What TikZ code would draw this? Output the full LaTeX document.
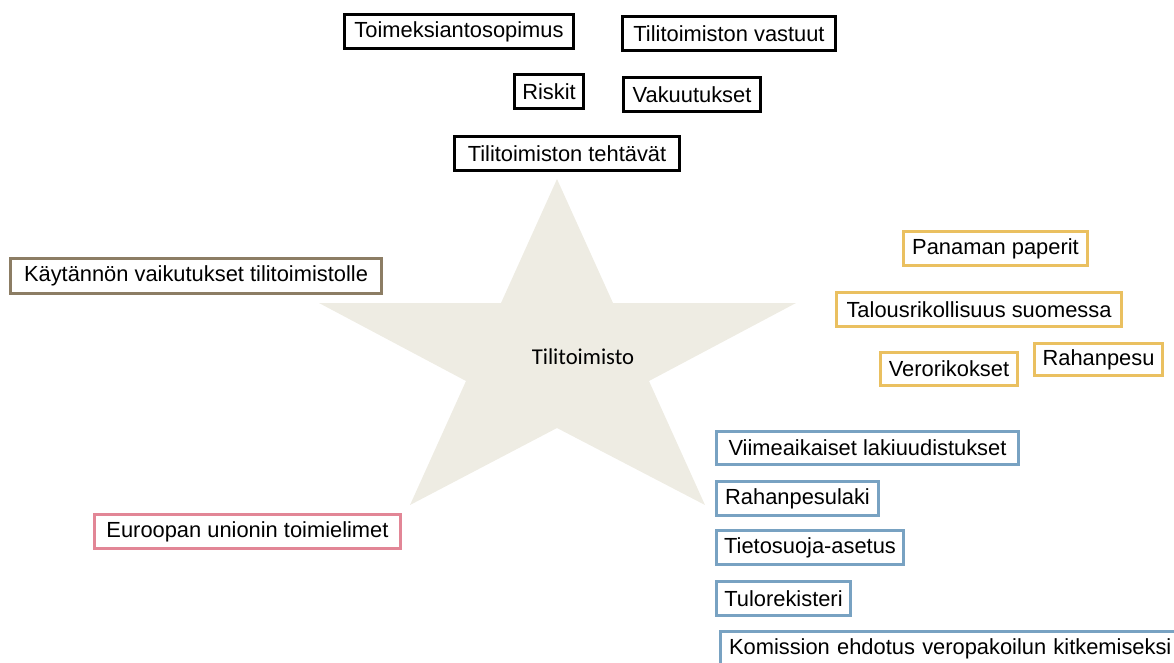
\documentclass[tikz,border=0pt]{standalone}
\usepackage{fontspec}
\setmainfont{Liberation Sans}
\newfontfamily\calibrifont{Carlito}
\definecolor{starfill}{RGB}{238,236,227}
\definecolor{tanline}{RGB}{140,125,100}
\definecolor{goldline}{RGB}{234,192,96}
\definecolor{pinkline}{RGB}{226,134,150}
\definecolor{blueline}{RGB}{120,162,194}
\begin{document}
\begin{tikzpicture}[x=0.75pt,y=-0.75pt,
  bx/.style={draw, line width=2.3pt, fill=white, inner sep=0pt, text=black,
    font=\fontsize{16.4}{18}\selectfont},
  sz/.style 2 args={minimum width=#1*0.75pt, minimum height=#2*0.75pt},
  kbox/.style={bx, draw=black, line width=2.6pt},
  tbox/.style={bx, draw=tanline},
  gbox/.style={bx, draw=goldline},
  pbox/.style={bx, draw=pinkline},
  bbox/.style={bx, draw=blueline}]
\useasboundingbox (0,0) rectangle (1174,662);
\clip (0,0) rectangle (1174,662);
% star
\fill[starfill] (557,179) -- (613,303) -- (796,303) -- (649,381) -- (705,505)
  -- (557,428) -- (410,505) -- (466,381) -- (319,303) -- (501,303) -- cycle;
\node[font=\calibrifont\fontsize{17}{19}\selectfont] (center) at (583,357) {Tilitoimisto};
% black boxes
\node[kbox, sz={229}{34}] (toim) at (459,31.5) {Toimeksiantosopimus};
\node[kbox, sz={213}{34}] (vast) at (729,33.5) {Tilitoimiston vastuut};
\node[kbox, sz={69}{34}] (risk) at (549,91.5) {Riskit};
\node[kbox, sz={137}{34}] (vaku) at (692,94.5) {Vakuutukset};
\node[kbox, sz={225}{34}] (teht) at (567,153.5) {Tilitoimiston tehtävät};
% tan
\node[tbox, sz={371}{35}] (kayt) at (196,276) {Käytännön vaikutukset tilitoimistolle};
% gold
\node[gbox, sz={184}{34}] (pana) at (995.5,248.5) {Panaman paperit};
\node[gbox, sz={285}{34}] (talo) at (979,309.5) {Talousrikollisuus suomessa};
\node[gbox, sz={137}{33}] (vero) at (949,369) {Verorikokset};
\node[gbox, sz={128}{32}] (raha) at (1098.5,359.5) {Rahanpesu};
% pink
\node[pbox, sz={306}{34}] (euro) at (247.5,531.5) {Euroopan unionin toimielimet};
% blue
\node[bbox, sz={302}{33}] (viim) at (867.5,448) {Viimeaikaiset lakiuudistukset};
\node[bbox, sz={162}{34}] (rlak) at (797.5,498.5) {Rahanpesulaki};
\node[bbox, sz={187}{34}] (tiet) at (810,547.5) {Tietosuoja-asetus};
\node[bbox, sz={134}{34}] (tulo) at (783.5,598.5) {Tulorekisteri};
\node[bbox, sz={475}{34}, anchor=west, inner xsep=9*0.75pt, align=left, text width=457*0.75pt] (komi) at (718.5,648.5) {Komission ehdotus veropakoilun kitkemiseksi};
\end{tikzpicture}
\end{document}
